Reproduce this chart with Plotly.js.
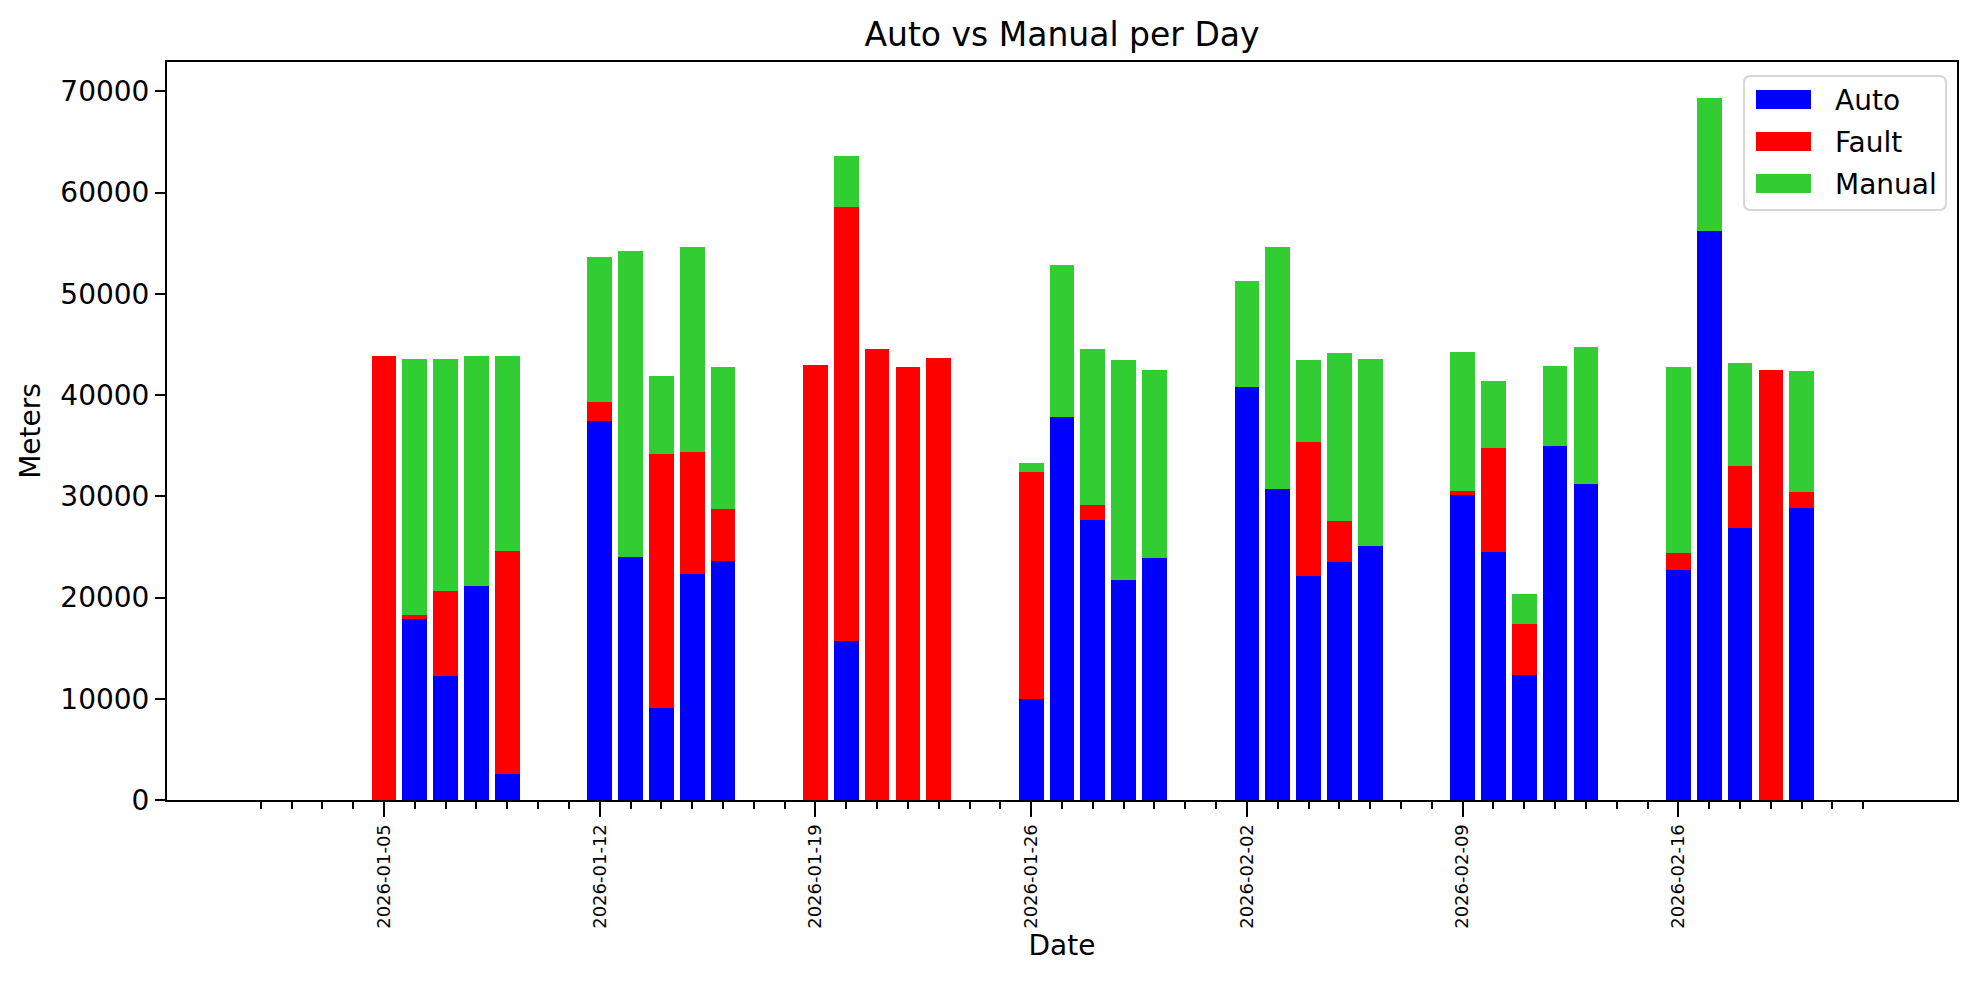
<!DOCTYPE html>
<html>
<head>
<meta charset="utf-8">
<script src="https://cdn.plot.ly/plotly-3.0.1.min.js"></script>
<style>
  html, body { margin: 0; padding: 0; background: #ffffff; }
  #chart { width: 1979px; height: 983px; }
</style>
</head>
<body>
<div id="chart"></div>
<script>
// ---- data ----
const dates = [
  '2026-01-05','2026-01-06','2026-01-07','2026-01-08','2026-01-09',
  '2026-01-12','2026-01-13','2026-01-14','2026-01-15','2026-01-16',
  '2026-01-19','2026-01-20','2026-01-21','2026-01-22','2026-01-23',
  '2026-01-26','2026-01-27','2026-01-28','2026-01-29','2026-01-30',
  '2026-02-02','2026-02-03','2026-02-04','2026-02-05','2026-02-06',
  '2026-02-09','2026-02-10','2026-02-11','2026-02-12','2026-02-13',
  '2026-02-16','2026-02-17','2026-02-18','2026-02-19','2026-02-20'
];
const autoMeters = [
  0, 17870, 12290, 21160, 2600,
  37470, 24030, 9130, 22340, 23630,
  0, 15720, 0, 0, 0,
  9990, 37870, 27680, 21750, 23880,
  40830, 30730, 22150, 23540, 25110,
  30150, 24500, 12360, 35000, 31250,
  22750, 56250, 26880, 0, 28880
];
const faultMeters = [
  43900, 420, 8370, 0, 22020,
  1880, 0, 25080, 12070, 5140,
  43010, 42810, 44590, 42810, 43700,
  22440, 0, 1490, 0, 0,
  0, 0, 13230, 4050, 0,
  400, 10250, 5070, 0, 0,
  1630, 0, 6120, 42500, 1500
];
const manualMeters = [
  0, 25310, 22940, 22740, 19280,
  14240, 30250, 7710, 20170, 14040,
  0, 5100, 0, 0, 0,
  890, 14930, 15420, 21750, 18620,
  10390, 23930, 8120, 16610, 18490,
  13740, 6600, 2950, 7880, 13500,
  18370, 13130, 10130, 0, 12000
];
const seriesNames = ['Auto', 'Fault', 'Manual'];
const seriesColors = ['#0000ff', '#ff0000', '#32cd32'];
const majorTickDates = ['2026-01-05','2026-01-12','2026-01-19','2026-01-26','2026-02-02','2026-02-09','2026-02-16'];
const yTickVals = [0, 10000, 20000, 30000, 40000, 50000, 60000, 70000];

// ---- styling ----
const DAY = 86400000;
const barWidth = 0.8 * DAY;
const FONT = 'DejaVu Sans, Liberation Sans, sans-serif';

// plot-area pixel box (used only to place the legend box)
const PL = 167, PR = 1957, PT = 62, PB = 800;
const px2x = x => (x - PL) / (PR - PL);
const px2y = y => (PB - y) / (PB - PT);

// daily minor ticks from 2026-01-01 to 2026-02-22
const minorTicks = [];
for (let t = Date.UTC(2026, 0, 1); t <= Date.UTC(2026, 1, 22); t += DAY) {
  minorTicks.push(new Date(t).toISOString().slice(0, 10));
}

const seriesValues = [autoMeters, faultMeters, manualMeters];
const data = seriesNames.map((name, i) => ({
  type: 'bar',
  name: name,
  x: dates,
  y: seriesValues[i],
  width: dates.map(() => barWidth),
  marker: { color: seriesColors[i], line: { width: 0 } },
  showlegend: false,
  hoverinfo: 'x+y+name'
}));

// ---- matplotlib-style legend box ----
const LB = { x0: 1744, x1: 1946, y0: 76, y1: 210, r: 7 };
function roundedRectPath(b) {
  const X = px2x, Y = px2y;
  const rx = b.r / (PR - PL), ry = b.r / (PB - PT);
  const x0 = X(b.x0), x1 = X(b.x1), yt = Y(b.y0), yb = Y(b.y1);
  return `M${x0 + rx},${yt} L${x1 - rx},${yt} Q${x1},${yt} ${x1},${yt - ry} ` +
         `L${x1},${yb + ry} Q${x1},${yb} ${x1 - rx},${yb} ` +
         `L${x0 + rx},${yb} Q${x0},${yb} ${x0},${yb + ry} ` +
         `L${x0},${yt - ry} Q${x0},${yt} ${x0 + rx},${yt} Z`;
}
const shapes = [{
  type: 'path', xref: 'paper', yref: 'paper', layer: 'above',
  path: roundedRectPath(LB),
  fillcolor: 'rgba(255,255,255,0.8)',
  line: { color: '#d6d6d6', width: 2 }
}];
const annotations = [];
const itemCenters = [99.5, 141.5, 183.5];
seriesNames.forEach((name, i) => {
  const cy = itemCenters[i];
  shapes.push({
    type: 'rect', xref: 'paper', yref: 'paper', layer: 'above',
    x0: px2x(1756), x1: px2x(1811), y0: px2y(cy + 9.5), y1: px2y(cy - 9.5),
    fillcolor: seriesColors[i], line: { width: 0 }
  });
  annotations.push({
    xref: 'paper', yref: 'paper', x: px2x(1833), y: px2y(cy + 1),
    xanchor: 'left', yanchor: 'middle', showarrow: false,
    text: name, font: { family: FONT, size: 28, color: '#000000' }
  });
});

const layout = {
  width: 1979,
  height: 983,
  paper_bgcolor: '#ffffff',
  plot_bgcolor: '#ffffff',
  font: { family: FONT, color: '#000000', size: 28 },
  margin: { l: PL, r: 1979 - PR, t: PT, b: 983 - PB, pad: 0 },
  barmode: 'stack',
  bargap: 0,
  showlegend: false,
  title: {
    text: 'Auto vs Manual per Day',
    font: { family: FONT, size: 33, color: '#000000' },
    x: 0.5, xref: 'paper', xanchor: 'center',
    y: 1 - 34 / 983, yref: 'container', yanchor: 'middle'
  },
  xaxis: {
    type: 'date',
    range: ['2025-12-28 23:02', '2026-02-25 00:58'],
    tickmode: 'array',
    tickvals: majorTickDates,
    ticktext: majorTickDates,
    tickangle: -90,
    tickfont: { family: FONT, size: 18, color: '#000000' },
    ticks: 'outside',
    ticklen: 15,
    tickwidth: 2,
    tickcolor: '#000000',
    ticklabelstandoff: 0,
    minor: {
      tickmode: 'array',
      tickvals: minorTicks,
      ticks: 'outside',
      ticklen: 7,
      tickwidth: 2,
      tickcolor: '#000000',
      showgrid: false
    },
    showgrid: false,
    zeroline: false,
    showline: true,
    linecolor: '#000000',
    linewidth: 2,
    mirror: true,
    automargin: false,
    title: { text: 'Date', font: { family: FONT, size: 28, color: '#000000' }, standoff: 6 }
  },
  yaxis: {
    range: [0, 72900],
    tickmode: 'array',
    tickvals: yTickVals,
    tickformat: 'd',
    tickfont: { family: FONT, size: 28, color: '#000000' },
    ticks: 'outside',
    ticklen: 10,
    tickwidth: 2,
    tickcolor: '#000000',
    showgrid: false,
    zeroline: false,
    showline: true,
    linecolor: '#000000',
    linewidth: 2,
    mirror: true,
    automargin: false,
    title: { text: 'Meters', font: { family: FONT, size: 28, color: '#000000' }, standoff: 12 }
  },
  shapes: shapes,
  annotations: annotations
};

Plotly.newPlot('chart', data, layout, { displayModeBar: false, staticPlot: true });
</script>
</body>
</html>
